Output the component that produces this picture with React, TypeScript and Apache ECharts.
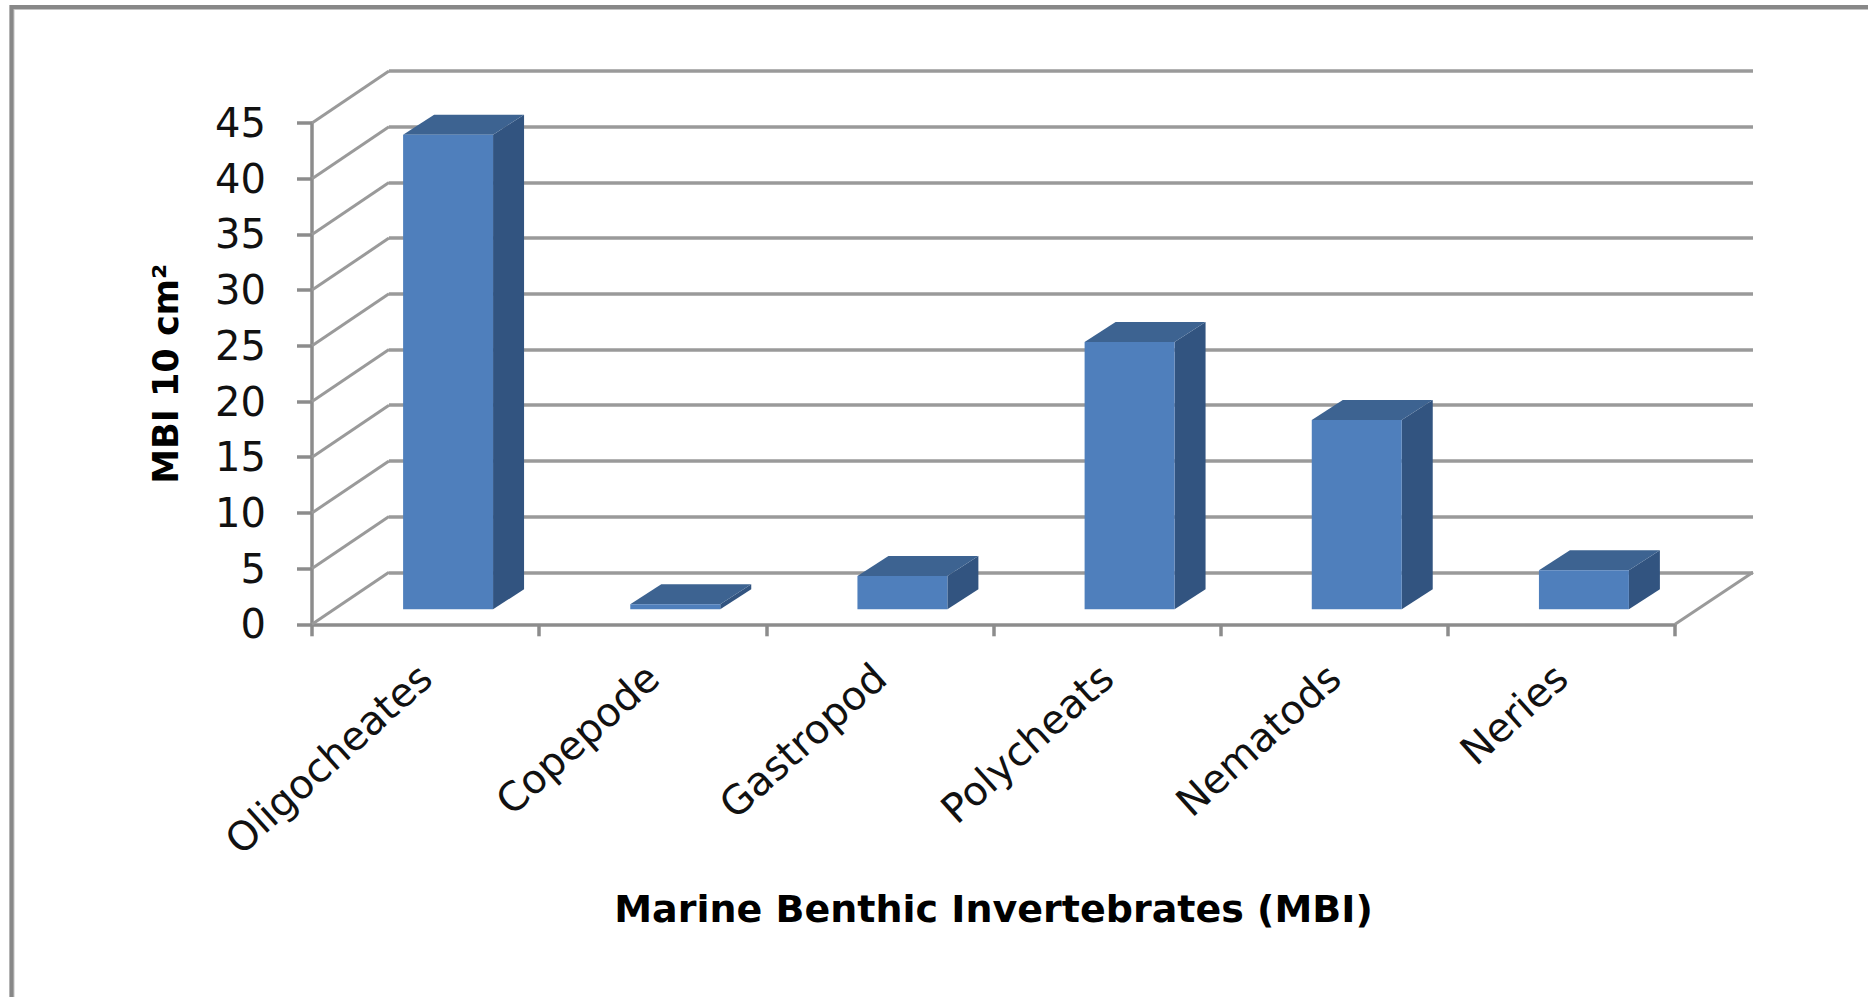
import React, { useEffect, useRef } from "react";
import * as echarts from "echarts";

const categories = ["Oligocheates", "Copepode", "Gastropod", "Polycheats", "Nematods", "Neries"];
const values = [42.6, 0.45, 3.0, 24.0, 17.0, 3.5];
const tickValues = [0, 5, 10, 15, 20, 25, 30, 35, 40, 45];
const xTitle = "Marine Benthic Invertebrates (MBI)";
const yTitle = "MBI 10 cm²";

const FONT = "DejaVu Sans";
const FRONT = "#4F7FBC";
const TOP = "#3D6391";
const SIDE = "#325480";
const LINE = "#9A9A9A";
const AXIS = "#8C8C8C";
const DX = 77;
const DY = 52;

export default function App() {
  const ref = useRef<HTMLDivElement>(null);
  useEffect(() => {
    document.body.style.margin = "0";
    const chart = echarts.init(ref.current!, undefined, { renderer: "svg" });
    chart.setOption({
      animation: false,
      backgroundColor: "#fff",
      graphic: [
        { type: "rect", z: 0, shape: { x: 12, y: 7.5, width: 1900, height: 1100 }, style: { fill: "none", stroke: "#C4C4C4", lineWidth: 5 } },
        { type: "rect", z: 0, shape: { x: 11.5, y: 7, width: 1900, height: 1100 }, style: { fill: "none", stroke: "#888888", lineWidth: 4 } },
      ],
      grid: [
        { left: 312, top: 123, width: 1363, height: 501.3 },
        { left: 389, top: 71, width: 1364, height: 501.3 },
      ],
      xAxis: [
        {
          type: "category",
          gridIndex: 0,
          data: categories,
          axisLine: { lineStyle: { color: AXIS, width: 3.5 } },
          axisTick: { show: true, length: 12, lineStyle: { color: AXIS, width: 3.5 } },
          axisLabel: { rotate: 42, interval: 0, fontFamily: FONT, fontSize: 40, color: "#111", margin: 47 },
          name: xTitle,
          nameLocation: "middle",
          nameGap: 285,
          nameTextStyle: { fontFamily: FONT, fontWeight: "bold", fontSize: 38, color: "#000", verticalAlign: "middle" },
        },
        { type: "category", gridIndex: 1, data: categories, show: false },
      ],
      yAxis: [
        {
          type: "value",
          gridIndex: 0,
          min: 0,
          max: 45,
          interval: 5,
          axisLine: { show: true, lineStyle: { color: AXIS, width: 3.5 } },
          axisTick: { show: true, length: 15, lineStyle: { color: AXIS, width: 3.5 } },
          axisLabel: { fontFamily: FONT, fontSize: 40, color: "#111", margin: 46 },
          splitLine: { show: false },
          name: yTitle,
          nameLocation: "middle",
          nameGap: 146,
          nameRotate: 90,
          nameTextStyle: { fontFamily: FONT, fontWeight: "bold", fontSize: 35, color: "#000", verticalAlign: "middle" },
        },
        {
          type: "value",
          gridIndex: 1,
          min: 0,
          max: 45,
          interval: 5,
          axisLine: { show: false },
          axisTick: { show: false },
          axisLabel: { show: false },
          splitLine: { show: true, lineStyle: { color: LINE, width: 3.5 } },
        },
      ],
      series: [
        {
          type: "custom",
          name: "wall",
          xAxisIndex: 0,
          yAxisIndex: 0,
          z: 2,
          silent: true,
          data: tickValues.map((v) => [0, v]),
          renderItem: (params: any, api: any) => {
            const y = api.coord([0, api.value(1)])[1];
            const x0 = params.coordSys.x;
            const children: any[] = [
              { type: "line", shape: { x1: x0, y1: y, x2: x0 + DX, y2: y - DY }, style: { stroke: LINE, lineWidth: 3, fill: "none" } },
            ];
            if (api.value(1) === 0) {
              const x1 = x0 + params.coordSys.width;
              children.push({ type: "line", shape: { x1, y1: y, x2: x1 + DX + 1, y2: y - DY }, style: { stroke: LINE, lineWidth: 3, fill: "none" } });
            }
            return { type: "group", children };
          },
        },
        {
          type: "custom",
          name: "MBI",
          xAxisIndex: 0,
          yAxisIndex: 0,
          z: 3,
          data: values.map((v, i) => [i, v]),
          renderItem: (_params: any, api: any) => {
            const [cx, yTop0] = api.coord([api.value(0), api.value(1)]);
            const [, yBase0] = api.coord([api.value(0), 0]);
            const w = api.size([1, 0])[0] * 0.396;
            const sx = 31;
            const sy = 20;
            const l = cx + 22.5 - w / 2;
            const r = l + w;
            const base = yBase0 - 15;
            const top = yTop0 - 15;
            return {
              type: "group",
              children: [
                { type: "polygon", shape: { points: [[r, base], [r + sx, base - sy], [r + sx, top - sy], [r, top]] }, style: { fill: SIDE } },
                { type: "polygon", shape: { points: [[l, top], [l + sx, top - sy], [r + sx, top - sy], [r, top]] }, style: { fill: TOP } },
                { type: "rect", shape: { x: l, y: top, width: w, height: base - top }, style: { fill: FRONT } },
              ],
            };
          },
        },
      ],
    });
    return () => chart.dispose();
  }, []);
  return <div ref={ref} style={{ position: "absolute", left: 0, top: 0, width: 1868, height: 997 }} />;
}
